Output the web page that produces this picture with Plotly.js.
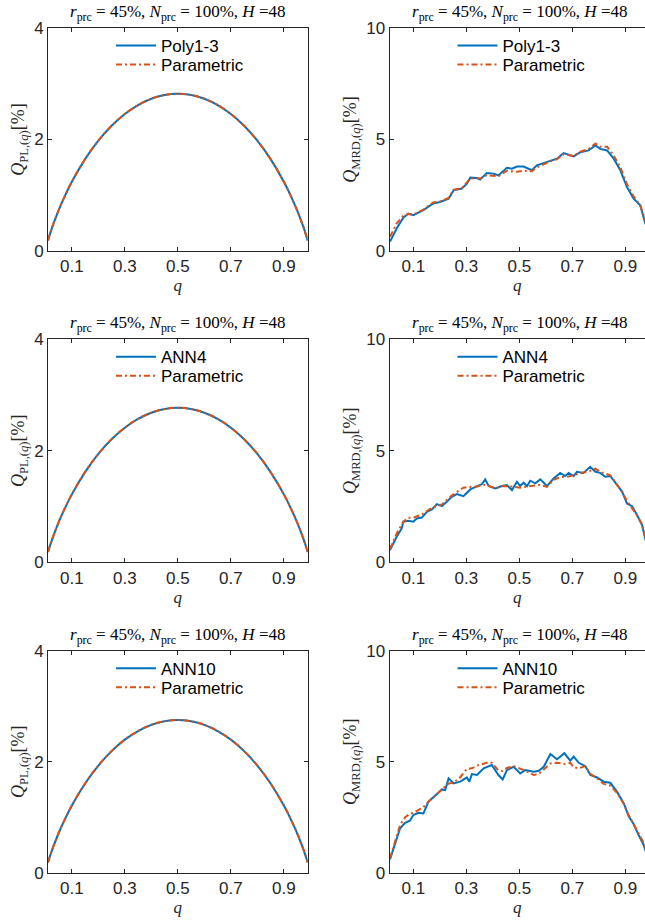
<!DOCTYPE html>
<html><head><meta charset="utf-8">
<script src="https://cdn.plot.ly/plotly-3.0.1.min.js"></script>
<style>body{margin:0;padding:0;background:#fff}#chart{width:645px;height:922px}</style>
</head><body><div id="chart"></div>
<script>
// ---------- data ----------
const qPL = [0.01,0.02,0.03,0.05,0.07,0.1,0.15,0.2,0.25,0.3,0.35,0.4,0.45,0.5,0.55,0.6,0.65,0.7,0.75,0.8,0.85,0.9,0.93,0.95,0.97,0.98,0.99];
const plPoly13 = [0.188,0.342,0.481,0.729,0.948,1.241,1.648,1.979,2.246,2.458,2.618,2.731,2.798,2.820,2.798,2.731,2.618,2.458,2.246,1.979,1.648,1.241,0.948,0.729,0.481,0.342,0.188];
const plParam1 = [0.190,0.344,0.483,0.731,0.950,1.243,1.650,1.980,2.247,2.459,2.619,2.732,2.799,2.821,2.799,2.732,2.619,2.459,2.247,1.980,1.650,1.243,0.950,0.731,0.483,0.344,0.190];
const plAnn4 = [0.185,0.336,0.472,0.716,0.931,1.219,1.618,1.944,2.207,2.414,2.572,2.682,2.748,2.770,2.748,2.682,2.572,2.414,2.207,1.944,1.618,1.219,0.931,0.716,0.472,0.336,0.185];
const plParam2 = [0.187,0.338,0.474,0.718,0.933,1.221,1.620,1.946,2.209,2.416,2.574,2.684,2.750,2.772,2.750,2.684,2.574,2.416,2.209,1.946,1.620,1.221,0.933,0.718,0.474,0.338,0.187];
const plAnn10 = [0.184,0.334,0.469,0.711,0.924,1.210,1.607,1.930,2.191,2.397,2.553,2.663,2.728,2.750,2.728,2.663,2.553,2.397,2.191,1.930,1.607,1.210,0.924,0.711,0.469,0.334,0.184];
const plParam3 = [0.186,0.336,0.471,0.713,0.926,1.212,1.609,1.932,2.193,2.399,2.555,2.665,2.730,2.752,2.730,2.665,2.555,2.399,2.193,1.932,1.609,1.212,0.926,0.713,0.471,0.336,0.186];

const qM1 = [0.012,0.037,0.062,0.081,0.100,0.138,0.175,0.201,0.233,0.252,0.283,0.302,0.315,0.340,0.352,0.377,0.402,0.421,0.453,0.472,0.491,0.516,0.547,0.566,0.591,0.617,0.642,0.667,0.705,0.730,0.761,0.787,0.805,0.831,0.856,0.881,0.906,0.931,0.956,0.975,0.990];
const mrdPoly13 = [0.42,1.01,1.49,1.68,1.61,1.83,2.13,2.20,2.35,2.72,2.80,3.02,3.29,3.27,3.20,3.50,3.47,3.39,3.73,3.69,3.79,3.79,3.62,3.84,3.94,4.03,4.14,4.39,4.24,4.43,4.51,4.73,4.58,4.51,4.14,3.62,2.87,2.35,2.05,1.24,0.85];
const mrdParam1 = [0.64,1.24,1.58,1.66,1.63,1.86,2.18,2.22,2.38,2.75,2.82,3.05,3.25,3.27,3.25,3.40,3.38,3.35,3.60,3.58,3.55,3.60,3.58,3.75,3.90,4.02,4.12,4.34,4.26,4.45,4.58,4.82,4.68,4.68,4.28,3.75,3.00,2.45,2.05,1.35,0.90];

const qM2 = [0.012,0.037,0.056,0.062,0.081,0.100,0.113,0.132,0.151,0.170,0.189,0.208,0.226,0.245,0.264,0.289,0.315,0.340,0.359,0.371,0.384,0.409,0.434,0.453,0.472,0.491,0.503,0.516,0.529,0.541,0.560,0.579,0.604,0.629,0.654,0.673,0.686,0.705,0.717,0.742,0.767,0.787,0.805,0.824,0.843,0.862,0.888,0.906,0.925,0.944,0.963,0.976,0.990];
const mrdAnn4 = [0.55,1.15,1.52,1.82,1.87,1.82,1.97,2.01,2.27,2.37,2.61,2.52,2.72,2.94,3.06,2.97,3.27,3.42,3.51,3.72,3.42,3.31,3.42,3.46,3.24,3.61,3.42,3.57,3.42,3.66,3.54,3.72,3.42,3.76,4.01,3.87,4.01,3.87,4.06,4.01,4.28,4.06,4.01,3.84,3.87,3.57,3.16,2.64,2.52,2.12,1.67,1.00,0.80];
const qP2 = [0.012,0.037,0.062,0.081,0.100,0.132,0.170,0.208,0.245,0.289,0.315,0.340,0.371,0.409,0.434,0.472,0.503,0.541,0.579,0.604,0.629,0.654,0.686,0.717,0.742,0.767,0.787,0.805,0.824,0.843,0.862,0.888,0.906,0.925,0.944,0.963,0.976,0.990];
const mrdParam2 = [0.60,1.30,1.82,2.00,2.00,2.15,2.45,2.60,3.00,3.35,3.38,3.40,3.48,3.32,3.42,3.40,3.35,3.42,3.48,3.38,3.70,3.82,3.85,3.95,4.02,4.10,4.20,4.05,3.98,3.90,3.60,3.15,2.75,2.45,2.10,1.70,1.15,0.85];

const qM3 = [0.012,0.031,0.050,0.069,0.087,0.100,0.119,0.138,0.157,0.189,0.208,0.220,0.233,0.252,0.277,0.302,0.311,0.321,0.340,0.365,0.396,0.421,0.437,0.453,0.478,0.503,0.522,0.554,0.573,0.592,0.617,0.642,0.670,0.692,0.705,0.724,0.749,0.768,0.793,0.818,0.843,0.868,0.894,0.912,0.931,0.950,0.969,0.976,0.990];
const mrdAnn10 = [0.60,1.32,2.00,2.25,2.34,2.60,2.70,2.67,3.20,3.54,3.75,3.72,4.25,4.02,4.10,4.29,4.10,4.44,4.40,4.70,4.85,4.40,4.20,4.62,4.77,4.47,4.62,4.55,4.59,4.77,5.35,5.11,5.38,5.05,5.23,4.95,4.80,4.40,4.29,4.10,4.05,3.65,3.12,2.55,2.19,1.70,1.25,0.99,0.80];
const qP3 = [0.012,0.031,0.050,0.069,0.087,0.100,0.138,0.157,0.189,0.208,0.233,0.252,0.277,0.302,0.321,0.340,0.365,0.384,0.396,0.421,0.437,0.453,0.478,0.503,0.522,0.554,0.573,0.592,0.617,0.642,0.670,0.692,0.705,0.724,0.749,0.768,0.793,0.818,0.843,0.868,0.894,0.912,0.931,0.950,0.969,0.976,0.990];
const mrdParam3 = [0.65,1.45,2.15,2.50,2.65,2.70,2.95,3.20,3.55,3.72,4.02,4.05,4.30,4.68,4.70,4.82,4.90,4.98,4.95,4.60,4.58,4.72,4.80,4.70,4.60,4.40,4.45,4.65,4.92,4.95,4.90,4.95,4.75,4.70,4.80,4.45,4.25,4.00,3.92,3.60,3.10,2.60,2.20,1.75,1.35,1.15,0.85];

const modelNames = ['Poly1-3','ANN4','ANN10'];
const paramName = 'Parametric';
const xTicks = [0.1,0.3,0.5,0.7,0.9];
const yTicksPL = [0,2,4];
const yTicksMRD = [0,5,10];

// ---------- layout helpers ----------
const W = 645, H = 922;
const BLUE = '#0072BD', ORANGE = '#D95319', AX = '#262626';
const colPx = [[48, 307.7], [389.5, 645]];
const rowPx = [[28, 251], [339.2, 562.4], [650.7, 872.7]];
const xRanges = [[0.01, 0.99], [0.01, 0.974]];
const titleHTML = '<i>r</i><sub>prc</sub> = 45%, <i>N</i><sub>prc</sub> = 100%, <i>H</i> =48';
const serif = '"Liberation Serif", "DejaVu Serif", serif';
const sans = '"Liberation Sans", Arial, sans-serif';

const panels = [
  {q:qPL, m:plPoly13, qp:qPL, p:plParam1, name:modelNames[0], row:0, col:0, shape:'spline'},
  {q:qM1, m:mrdPoly13, qp:qM1, p:mrdParam1, name:modelNames[0], row:0, col:1, shape:'linear'},
  {q:qPL, m:plAnn4, qp:qPL, p:plParam2, name:modelNames[1], row:1, col:0, shape:'spline'},
  {q:qM2, m:mrdAnn4, qp:qP2, p:mrdParam2, name:modelNames[1], row:1, col:1, shape:'linear'},
  {q:qPL, m:plAnn10, qp:qPL, p:plParam3, name:modelNames[2], row:2, col:0, shape:'spline'},
  {q:qM3, m:mrdAnn10, qp:qP3, p:mrdParam3, name:modelNames[2], row:2, col:1, shape:'linear'}
];

const data = [];
const layout = {
  width: W, height: H, margin: {l:0, r:0, t:0, b:0},
  paper_bgcolor: '#fff', plot_bgcolor: '#fff',
  font: {family: sans, color: AX, size: 15},
  showlegend: true, annotations: []
};

function legendBox(xPx, yPx) {
  return {
    x: xPx / W, y: 1 - yPx / H, xanchor: 'left', yanchor: 'middle',
    bgcolor: 'rgba(0,0,0,0)', borderwidth: 0, font: {family: sans, size: 17, color: '#000'},
    itemwidth: 40
  };
}

panels.forEach((pn, i) => {
  const k = i + 1;
  const sfx = k === 1 ? '' : String(k);
  const lgA = 'legend' + (2 * k - 1 === 1 ? '' : 2 * k - 1);
  const lgB = 'legend' + (2 * k);
  data.push({x: pn.q, y: pn.m, name: pn.name, type: 'scatter', mode: 'lines',
    line: {color: BLUE, width: 2, shape: pn.shape}, xaxis: 'x' + sfx, yaxis: 'y' + sfx, legend: lgA});
  data.push({x: pn.qp, y: pn.p, name: paramName, type: 'scatter', mode: 'lines',
    line: {color: ORANGE, width: 2, dash: '6px,3px,2px,3px', shape: pn.shape}, xaxis: 'x' + sfx, yaxis: 'y' + sfx, legend: lgB});
  const cp = colPx[pn.col], rp = rowPx[pn.row];
  layout['xaxis' + sfx] = {
    domain: [cp[0] / W, cp[1] / W], range: xRanges[pn.col], anchor: 'y' + sfx,
    tickvals: xTicks, ticktext: xTicks.map(v => v.toFixed(1)), ticks: 'inside', ticklen: 4, tickwidth: 1, tickcolor: AX,
    showline: true, linecolor: AX, linewidth: 1, mirror: 'ticks', showgrid: false, zeroline: false,
    tickfont: {family: sans, size: 17, color: AX},
    title: {text: '<i>q</i>', font: {family: serif, size: 17, color: AX}, standoff: 2}, automargin: false
  };
  layout['yaxis' + sfx] = {
    domain: [1 - rp[1] / H, 1 - rp[0] / H], range: pn.col === 0 ? [0, 4] : [0, 10], anchor: 'x' + sfx,
    tickvals: pn.col === 0 ? yTicksPL : yTicksMRD, ticks: 'inside', ticklen: 4, tickwidth: 1, tickcolor: AX,
    showline: true, linecolor: AX, linewidth: 1, mirror: pn.col === 0 ? 'ticks' : false, showgrid: false, zeroline: false,
    tickfont: {family: sans, size: 17, color: AX},
    title: {text: pn.col === 0 ? '<i>Q</i><sub>PL,(<i>q</i>)</sub>[%]' : '<i>Q</i><sub>MRD,(<i>q</i>)</sub>[%]',
      font: {family: serif, size: 18, color: AX}, standoff: 4}, automargin: false
  };
  layout[lgA] = legendBox(cp[0] + 63, rp[0] + 18);
  layout[lgB] = legendBox(cp[0] + 63, rp[0] + 37);
  const centerPx = pn.col === 0 ? (cp[0] + cp[1]) / 2 : 519;
  layout.annotations.push({
    text: titleHTML, xref: 'paper', yref: 'paper', x: centerPx / W, y: 1 - (rp[0] - 15) / H,
    xanchor: 'center', yanchor: 'middle', showarrow: false, font: {family: serif, size: 17, color: '#000'}
  });
});

Plotly.newPlot('chart', data, layout, {displayModeBar: false, staticPlot: true});
</script></body></html>
